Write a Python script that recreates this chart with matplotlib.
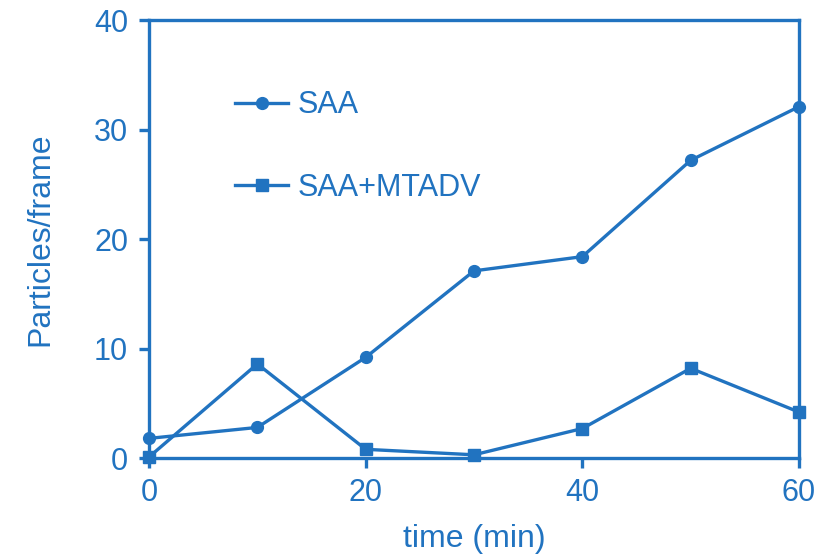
import matplotlib.pyplot as plt

plt.rcParams['font.family'] = ['Liberation Sans', 'DejaVu Sans']

# data
time_min = [0, 10, 20, 30, 40, 50, 60]
saa = [1.8, 2.8, 9.2, 17.1, 18.4, 27.2, 32.1]
saa_mtadv = [0.1, 8.6, 0.8, 0.3, 2.7, 8.2, 4.2]

x_ticks = [0, 20, 40, 60]
y_ticks = [0, 10, 20, 30, 40]

color = '#2173c0'
fs = 22

fig = plt.figure(figsize=(8.17, 5.6), dpi=100)
ax = fig.add_axes([0.1824, 0.182, 0.7956, 0.782])

ax.plot(time_min, saa, color=color, lw=2.4, marker='o', ms=8.5, label='SAA', clip_on=False, zorder=3)
ax.plot(time_min, saa_mtadv, color=color, lw=2.4, marker='s', ms=8.5, label='SAA+MTADV', clip_on=False, zorder=3)

ax.set_xlim(0, 60)
ax.set_ylim(0, 40)
ax.set_xticks(x_ticks)
ax.set_yticks(y_ticks)

for s in ax.spines.values():
    s.set_color(color)
    s.set_linewidth(2.4)

ax.tick_params(axis='both', colors=color, labelsize=fs, width=2.4, length=7, direction='out')
ax.tick_params(axis='y', pad=8)
ax.tick_params(axis='x', pad=7)

ax.set_xlabel('time (min)', color=color, fontsize=fs + 1, labelpad=12)
ax.set_ylabel('Particles/frame', color=color, fontsize=fs + 1, labelpad=28)

leg = ax.legend(loc='upper left', bbox_to_anchor=(0.132, 0.84), frameon=False,
                borderpad=0, borderaxespad=0, fontsize=fs, handlelength=1.75,
                handletextpad=0.3, labelspacing=1.72)
for t in leg.get_texts():
    t.set_color(color)

fig.savefig('out.png', dpi=100)
